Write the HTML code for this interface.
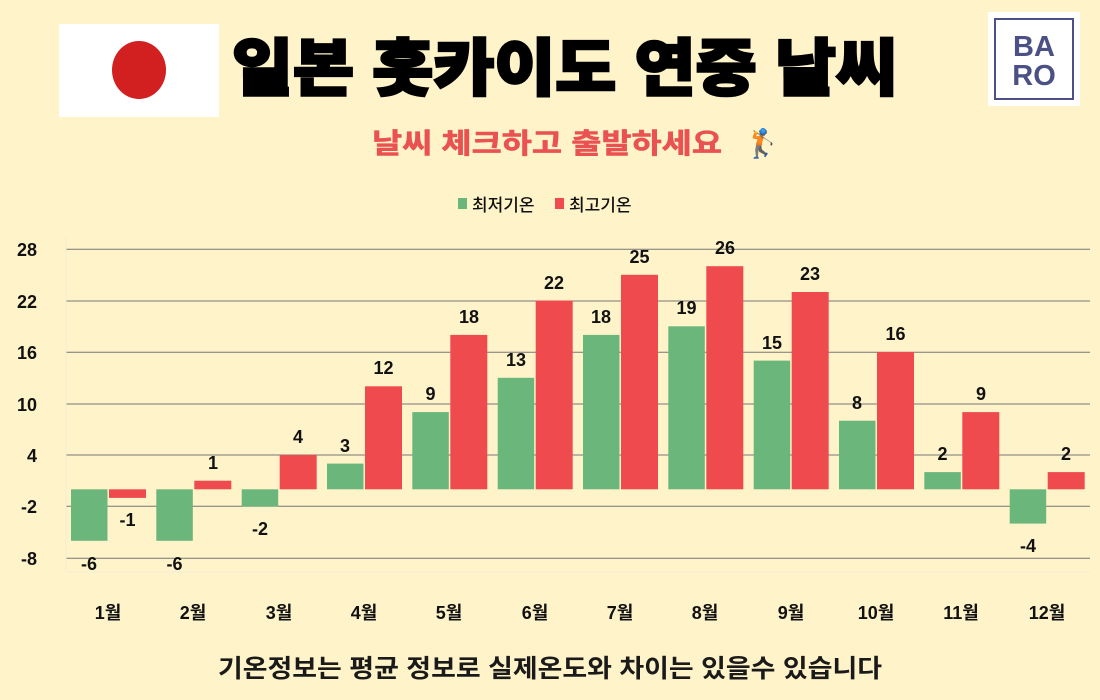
<!DOCTYPE html>
<html><head><meta charset="utf-8"><style>
html,body{margin:0;padding:0;background:#fff3c9;}
svg{display:block;font-family:"Liberation Sans","Noto Sans CJK KR",sans-serif;}
</style></head><body>
<svg width="1100" height="700" viewBox="0 0 1100 700" xmlns="http://www.w3.org/2000/svg">
<rect width="1100" height="700" fill="#fff3c9"/>
<rect x="59" y="24" width="160" height="93" fill="#fff"/>
<ellipse cx="139" cy="70" rx="27" ry="29" fill="#d21f1f"/>
<rect x="988" y="12" width="92" height="94" fill="#fff"/>
<rect x="995" y="19" width="78" height="80" fill="none" stroke="#4b5185" stroke-width="2"/>
<text x="1034" y="56" font-size="29" font-weight="bold" fill="#4b5185" text-anchor="middle">BA</text>
<text x="1034" y="85" font-size="29" font-weight="bold" fill="#4b5185" text-anchor="middle">RO</text>
<text x="232" y="90" font-size="62" font-weight="900" fill="#000" stroke="#000" stroke-width="2.5" textLength="665" lengthAdjust="spacingAndGlyphs">일본 홋카이도 연중 날씨</text>
<text x="372" y="153" font-size="28" font-weight="bold" fill="#ea5252" stroke="#ea5252" stroke-width="0.6" textLength="350" lengthAdjust="spacingAndGlyphs">날씨 체크하고 출발하세요</text>
<text x="745" y="153" font-size="28" fill="#ea5252">🏌</text>
<rect x="458" y="198" width="9" height="11" fill="#6bb77b"/>
<text x="472" y="211" font-size="17" fill="#111" font-weight="500">최저기온</text>
<rect x="555" y="198" width="9" height="11" fill="#ef4b4f"/>
<text x="569" y="211" font-size="17" fill="#111" font-weight="500">최고기온</text>
<g stroke="#777" stroke-width="1">
<line x1="66" x2="1090" y1="249.3" y2="249.3"/>
<line x1="66" x2="1090" y1="301" y2="301"/>
<line x1="66" x2="1090" y1="352.3" y2="352.3"/>
<line x1="66" x2="1090" y1="404" y2="404"/>
<line x1="66" x2="1090" y1="455" y2="455"/>
<line x1="66" x2="1090" y1="506.3" y2="506.3"/>
<line x1="66" x2="1090" y1="558.3" y2="558.3"/>
</g>
<line x1="66" x2="1090" y1="572" y2="572" stroke="#f4ecd8"/>
<line x1="66" x2="66" y1="236" y2="572" stroke="#f4ecd8"/>
<g font-size="18" font-weight="bold" fill="#111" text-anchor="end">
<text x="37" y="256">28</text><text x="37" y="308">22</text><text x="37" y="359">16</text>
<text x="37" y="411">10</text><text x="37" y="462">4</text><text x="37" y="513">-2</text><text x="37" y="565">-8</text>
</g>
<g fill="#6bb77b">
<rect x="71" y="489.3" width="36.5" height="51.5"/>
<rect x="156.3" y="489.3" width="36.5" height="51.5"/>
<rect x="241.7" y="489.3" width="36.5" height="17.2"/>
<rect x="327" y="463.6" width="36.5" height="25.7"/>
<rect x="412.3" y="412.1" width="36.5" height="77.2"/>
<rect x="497.7" y="377.8" width="36.5" height="111.5"/>
<rect x="583" y="334.9" width="36.5" height="154.4"/>
<rect x="668.3" y="326.3" width="36.5" height="163"/>
<rect x="753.7" y="360.6" width="36.5" height="128.7"/>
<rect x="839" y="420.7" width="36.5" height="68.6"/>
<rect x="924.3" y="472.1" width="36.5" height="17.2"/>
<rect x="1009.7" y="489.3" width="36.5" height="34.3"/>
</g>
<g fill="#ef4b4f">
<rect x="109" y="489.3" width="37" height="8.6"/>
<rect x="194.3" y="480.7" width="37" height="8.6"/>
<rect x="279.7" y="455" width="37" height="34.3"/>
<rect x="365" y="386.3" width="37" height="103"/>
<rect x="450.3" y="334.9" width="37" height="154.4"/>
<rect x="535.7" y="300.5" width="37" height="188.8"/>
<rect x="621" y="274.8" width="37" height="214.5"/>
<rect x="706.3" y="266.2" width="37" height="223.1"/>
<rect x="791.7" y="292" width="37" height="197.3"/>
<rect x="877" y="352" width="37" height="137.3"/>
<rect x="962.3" y="412.1" width="37" height="77.2"/>
<rect x="1047.7" y="472.1" width="37" height="17.2"/>
</g>
<g font-size="18" font-weight="bold" fill="#111" text-anchor="middle">
<text x="89" y="570">-6</text><text x="174.5" y="570">-6</text><text x="260" y="535">-2</text>
<text x="345" y="452">3</text><text x="430.5" y="400">9</text><text x="516" y="366">13</text>
<text x="601" y="323">18</text><text x="686.5" y="314">19</text><text x="772" y="349">15</text>
<text x="857" y="409">8</text><text x="942.5" y="460">2</text><text x="1028" y="552">-4</text>
<text x="127.5" y="526">-1</text><text x="213" y="469">1</text><text x="298" y="443">4</text>
<text x="383.5" y="374">12</text><text x="469" y="323">18</text><text x="554" y="289">22</text>
<text x="639.5" y="263">25</text><text x="725" y="254">26</text><text x="810" y="280">23</text>
<text x="895.5" y="340">16</text><text x="981" y="400">9</text><text x="1066" y="460">2</text>
</g>
<g font-size="18" font-weight="bold" fill="#111" text-anchor="middle">
<text x="108" y="619">1월</text><text x="193" y="619">2월</text><text x="279" y="619">3월</text>
<text x="364" y="619">4월</text><text x="449" y="619">5월</text><text x="535" y="619">6월</text>
<text x="620" y="619">7월</text><text x="705" y="619">8월</text><text x="791" y="619">9월</text>
<text x="876" y="619">10월</text><text x="961" y="619">11월</text><text x="1047" y="619">12월</text>
</g>
<text x="218" y="677" font-size="25" font-weight="bold" fill="#1a1a1a" textLength="664" lengthAdjust="spacingAndGlyphs">기온정보는 평균 정보로 실제온도와 차이는 있을수 있습니다</text>
</svg>
</body></html>
